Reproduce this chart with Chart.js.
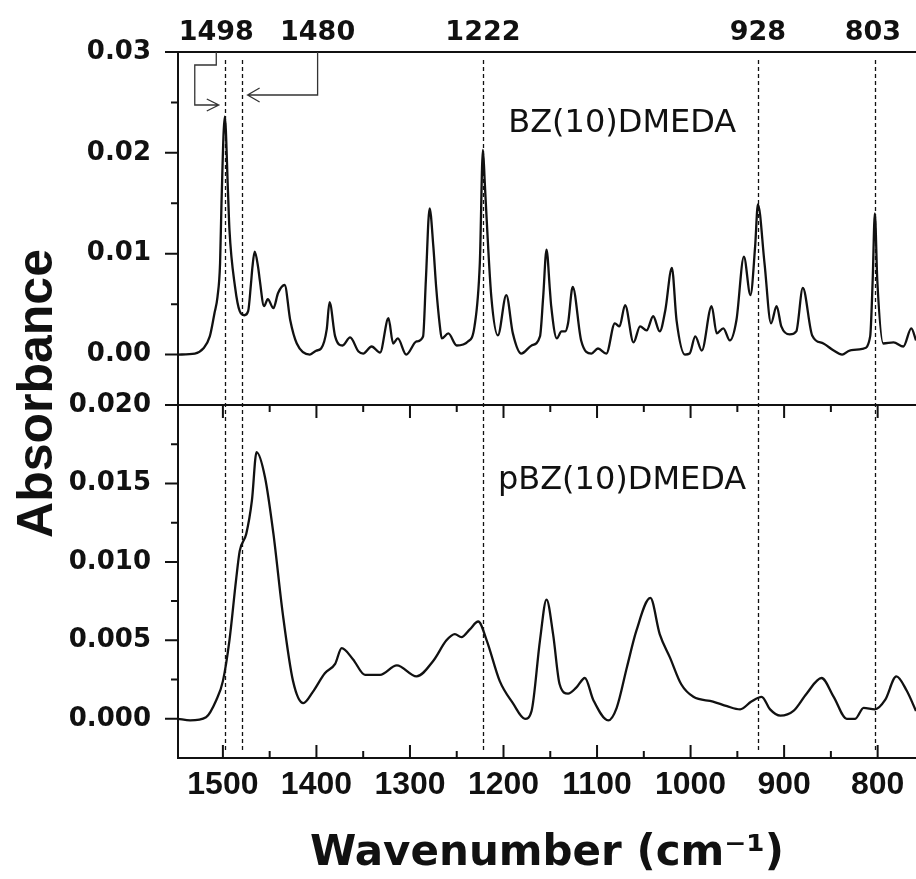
<!DOCTYPE html>
<html>
<head>
<meta charset="utf-8">
<title>FTIR spectra BZ(10)DMEDA / pBZ(10)DMEDA</title>
<script src="https://cdn.jsdelivr.net/npm/chart.js@4.4.1/dist/chart.umd.min.js"></script>
<style>
  html, body { margin: 0; padding: 0; background: #fff; }
  #wrap { width: 916px; height: 879px; }
</style>
</head>
<body>
<div id="wrap"><canvas id="ftir" width="916" height="879"></canvas></div>
<script>
/* ─── DATA ─── */
const bzWave = [1548, 1530, 1521, 1514, 1509, 1505.8, 1503, 1501.5, 1498, 1494.5, 1493, 1487, 1482, 1477, 1473, 1470,
  1468.4, 1466, 1462.4, 1460.6, 1456, 1452, 1446, 1441, 1434, 1428, 1421, 1407, 1400, 1395, 1389, 1386, 1380,
  1372, 1364, 1355, 1350, 1341, 1332, 1323, 1318, 1313, 1304, 1293, 1286, 1283, 1279, 1275, 1272, 1268, 1266,
  1259, 1250, 1238, 1231, 1225.3, 1222, 1220, 1218, 1213, 1206, 1197, 1190, 1181, 1170, 1161, 1157.6, 1154,
  1150.4, 1149, 1143, 1138, 1134, 1131, 1126, 1117, 1106, 1099, 1090, 1081, 1076, 1070, 1061, 1054, 1047,
  1040, 1033, 1027, 1020, 1015, 1006, 1001, 995, 988, 977.5, 972, 965, 958, 951, 943, 936, 931, 928, 921,
  914, 908, 903, 894, 887, 880, 870, 858, 847, 838, 830, 815, 808, 805.3, 803, 800.4, 794, 783, 772.5, 764, 759];
const bzAbs = [0.0000, 0.0001, 0.0006, 0.0018, 0.0041, 0.0057, 0.0091, 0.0150, 0.0236, 0.0160, 0.0124, 0.0067, 0.0043, 0.0039, 0.0043, 0.0070,
  0.0087, 0.0102, 0.0087, 0.0074, 0.0048, 0.0055, 0.0046, 0.0061, 0.0069, 0.0034, 0.0011, 0.0000, 0.0004, 0.0006, 0.0025, 0.0052, 0.0018,
  0.0009, 0.0017, 0.0003, 0.0001, 0.0008, 0.0002, 0.0036, 0.0011, 0.0016, 0.0000, 0.0013, 0.0018, 0.0074, 0.0145, 0.0107, 0.0067, 0.0028, 0.0016,
  0.0021, 0.0009, 0.0013, 0.0028, 0.0091, 0.0203, 0.0170, 0.0134, 0.0057, 0.0019, 0.0059, 0.0021, 0.0001, 0.0009, 0.0018, 0.0057, 0.0104,
  0.0064, 0.0048, 0.0016, 0.0023, 0.0023, 0.0031, 0.0067, 0.0014, 0.0001, 0.0006, 0.0001, 0.0031, 0.0028, 0.0049, 0.0012, 0.0028, 0.0024,
  0.0038, 0.0023, 0.0044, 0.0086, 0.0034, 0.0000, 0.0001, 0.0018, 0.0004, 0.0048, 0.0021, 0.0026, 0.0014, 0.0034, 0.0097, 0.0059, 0.0107, 0.0149, 0.0091,
  0.0031, 0.0048, 0.0028, 0.0020, 0.0023, 0.0066, 0.0019, 0.0011, 0.0004, 0.0000, 0.0004, 0.0006, 0.0018, 0.0074, 0.0140, 0.0074, 0.0011, 0.0012, 0.0008, 0.0026, 0.0014];

const pbzWave = [1548, 1535, 1518, 1507, 1500, 1493, 1486, 1482, 1475, 1469, 1464, 1455, 1446, 1436, 1425, 1414, 1404,
  1391, 1380, 1373, 1361, 1348, 1332, 1314, 1293, 1275, 1261, 1252, 1245, 1236, 1227, 1218, 1204, 1190, 1177,
  1170, 1161, 1154, 1147, 1140, 1131, 1122, 1113, 1104, 1088, 1079, 1068, 1058, 1043, 1033, 1022, 1010, 997,
  976, 961, 947, 935, 924, 915, 904, 890, 876, 860, 847, 833, 824, 815, 803, 792, 780, 769, 759];
const pbzAbs = [0.0000, -0.0001, 0.0001, 0.0012, 0.0024, 0.0050, 0.0088, 0.0107, 0.0118, 0.0139, 0.0170, 0.0154, 0.0118, 0.0067, 0.0024, 0.0010, 0.0017,
  0.0029, 0.0035, 0.0045, 0.0038, 0.0028, 0.0028, 0.0034, 0.0027, 0.0037, 0.0050, 0.0054, 0.0052, 0.0057, 0.0062, 0.0050, 0.0024, 0.0010, 0.0000,
  0.0005, 0.0050, 0.0076, 0.0054, 0.0022, 0.0016, 0.0020, 0.0026, 0.0012, -0.0001, 0.0007, 0.0033, 0.0056, 0.0077, 0.0054, 0.0039, 0.0022, 0.0014,
  0.0011, 0.0008, 0.0006, 0.0011, 0.0014, 0.0006, 0.0002, 0.0005, 0.0016, 0.0026, 0.0014, 0.0000, 0.0000, 0.0007, 0.0006, 0.0012, 0.0027, 0.0018, 0.0005];

const xTickVals = [1500, 1400, 1300, 1200, 1100, 1000, 900, 800];
const topTickVals = [0, 0.01, 0.02, 0.03];
const botTickVals = [0, 0.005, 0.01, 0.015, 0.02];
const peakMarks = [1498, 1480, 1222, 928, 803];
const peakLabels = ['1498', '1480', '1222', '928', '803'];
const seriesNames = ['BZ(10)DMEDA', 'pBZ(10)DMEDA'];

/* ─── STYLE ─── */
const ink = '#111';
const boldArial = '"Liberation Sans", Arial, sans-serif';
const dejavu = '"DejaVu Sans", Verdana, sans-serif';

function pairs(xs, ys) { return xs.map((w, i) => ({ x: w, y: ys[i] })); }

/* ─── FRAME, TICKS, MARKERS, LABELS ─── */
const decor = {
  id: 'decor',
  afterDatasetsDraw(chart) {
    const { ctx, chartArea: a, scales: { x, yTop, yBot } } = chart;
    const mid = yTop.bottom;
    ctx.save();

    // dashed peak markers through both panels
    ctx.strokeStyle = '#111'; ctx.lineWidth = 1.3; ctx.setLineDash([4, 3]);
    peakMarks.forEach(w => {
      const px = Math.round(x.getPixelForValue(w)) + 0.5;
      ctx.beginPath(); ctx.moveTo(px, a.top + 8); ctx.lineTo(px, a.bottom - 7); ctx.stroke();
    });
    ctx.setLineDash([]);

    // frame
    ctx.strokeStyle = ink; ctx.lineWidth = 2;
    ctx.beginPath();
    ctx.moveTo(a.left, a.top); ctx.lineTo(a.right, a.top);
    ctx.moveTo(a.left, mid); ctx.lineTo(a.right, mid);
    ctx.moveTo(a.left, a.bottom); ctx.lineTo(a.right, a.bottom);
    ctx.moveTo(a.left, a.top - 1); ctx.lineTo(a.left, a.bottom + 1);
    ctx.stroke();

    // x ticks: inward from bottom axis and from the divider
    ctx.beginPath();
    for (let w = 750; w <= 1550; w += 50) {
      const px = x.getPixelForValue(w);
      if (px < a.left + 3 || px > a.right) continue;
      const len = w % 100 === 0 ? 13 : 7;
      ctx.moveTo(px, a.bottom); ctx.lineTo(px, a.bottom - len);
      ctx.moveTo(px, mid); ctx.lineTo(px, mid + len);
    }
    // y ticks: outward, minor halfway between majors
    const yTicks = (scale, majors) => {
      majors.forEach((v, i) => {
        const py = scale.getPixelForValue(v);
        ctx.moveTo(a.left, py); ctx.lineTo(a.left - 13, py);
        if (i < majors.length - 1) {
          const pm = scale.getPixelForValue((v + majors[i + 1]) / 2);
          ctx.moveTo(a.left, pm); ctx.lineTo(a.left - 7, pm);
        }
      });
    };
    yTicks(yTop, topTickVals);
    yTicks(yBot, botTickVals);
    ctx.stroke();

    // peak labels above the frame
    ctx.fillStyle = ink;
    ctx.font = 'bold 27px ' + dejavu;
    ctx.textAlign = 'center'; ctx.textBaseline = 'alphabetic';
    const labelShift = [-8.5, 76, 0, 0, -2];
    peakMarks.forEach((w, i) => {
      ctx.fillText(peakLabels[i], x.getPixelForValue(w) + labelShift[i], a.top - 12);
    });

    // bent arrows for 1498 and 1480
    ctx.strokeStyle = '#333'; ctx.lineWidth = 1.3;
    const p1 = x.getPixelForValue(peakMarks[0]);
    const p2 = x.getPixelForValue(peakMarks[1]);
    ctx.beginPath();
    ctx.moveTo(p1 - 8.5, a.top); ctx.lineTo(p1 - 8.5, a.top + 13);
    ctx.lineTo(p1 - 30, a.top + 13); ctx.lineTo(p1 - 30, a.top + 53); ctx.lineTo(p1 - 6, a.top + 53);
    ctx.moveTo(p1 - 18, a.top + 47); ctx.lineTo(p1 - 6, a.top + 53); ctx.lineTo(p1 - 18, a.top + 59);
    ctx.moveTo(p2 + 76, a.top); ctx.lineTo(p2 + 76, a.top + 43); ctx.lineTo(p2 + 6, a.top + 43);
    ctx.moveTo(p2 + 18, a.top + 36); ctx.lineTo(p2 + 6, a.top + 43); ctx.lineTo(p2 + 18, a.top + 50);
    ctx.stroke();

    // series names
    ctx.font = '32px ' + dejavu;
    ctx.textAlign = 'left';
    ctx.fillText(seriesNames[0], x.getPixelForValue(1195), yTop.getPixelForValue(0.0221));
    ctx.fillText(seriesNames[1], x.getPixelForValue(1206), yBot.getPixelForValue(0.01464));

    // shared y title
    ctx.font = 'bold 50px ' + boldArial;
    ctx.textAlign = 'center';
    ctx.translate(52, (a.top + a.bottom) / 2 - 11.5);
    ctx.rotate(-Math.PI / 2);
    ctx.fillText('Absorbance', 0, 0);
    ctx.restore();
  }
};

/* ─── CHART ─── */
const yCommon = {
  type: 'linear', position: 'left', stack: 'panels', stackWeight: 1,
  grid: { display: false, drawTicks: false }, border: { display: false },
  ticks: { autoSkip: false, padding: 27, color: ink, font: { family: dejavu, size: 26, weight: 'bold' } }
};

new Chart(document.getElementById('ftir'), {
  type: 'line',
  data: {
    datasets: [
      { label: seriesNames[0], data: pairs(bzWave, bzAbs), yAxisID: 'yTop',
        borderColor: ink, borderWidth: 2.3, pointRadius: 0, fill: false, cubicInterpolationMode: 'monotone' },
      { label: seriesNames[1], data: pairs(pbzWave, pbzAbs), yAxisID: 'yBot',
        borderColor: ink, borderWidth: 2.3, pointRadius: 0, fill: false, cubicInterpolationMode: 'monotone' }
    ]
  },
  options: {
    responsive: false, animation: false,
    layout: { padding: { top: 52, left: 0, right: 0, bottom: 0 } },
    plugins: { legend: { display: false }, tooltip: { enabled: false } },
    scales: {
      x: {
        type: 'linear', position: 'bottom', reverse: true, min: 759, max: 1548,
        grid: { display: false, drawTicks: false }, border: { display: false },
        afterBuildTicks: s => { s.ticks = xTickVals.map(v => ({ value: v })); },
        ticks: { autoSkip: false, maxRotation: 0, padding: 8, color: ink,
          font: { family: boldArial, size: 32, weight: 'bold' }, callback: v => String(v) },
        title: { display: true, text: 'Wavenumber (cm⁻¹)', color: ink, padding: { top: 0, bottom: 0 },
          font: { family: dejavu, size: 42, weight: 'bold' } },
        afterFit: s => { s.height = 121; s.paddingLeft = 0; s.paddingRight = 0; }
      },
      yTop: {
        ...yCommon, weight: 2, min: -0.005, max: 0.03,
        afterBuildTicks: s => { s.ticks = topTickVals.map(v => ({ value: v })); },
        ticks: { ...yCommon.ticks, callback: v => v.toFixed(2) },
        afterFit: s => { s.width = 178; s.paddingTop = 0; s.paddingBottom = 0; }
      },
      yBot: {
        ...yCommon, weight: 1, min: -0.0025, max: 0.02,
        afterBuildTicks: s => { s.ticks = botTickVals.map(v => ({ value: v })); },
        ticks: { ...yCommon.ticks, callback: v => v.toFixed(3) },
        afterFit: s => { s.width = 178; s.paddingTop = 0; s.paddingBottom = 0; }
      }
    }
  },
  plugins: [decor]
});
</script>
</body>
</html>
